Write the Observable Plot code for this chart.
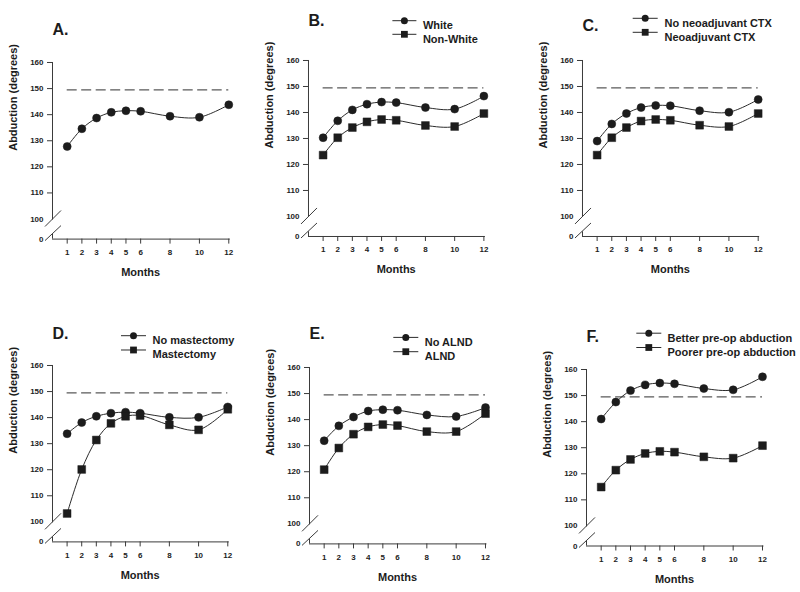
<!DOCTYPE html>
<html>
<head>
<meta charset="utf-8">
<script src="https://cdn.jsdelivr.net/npm/d3@7"></script>
<script src="https://cdn.jsdelivr.net/npm/@observablehq/plot@0.6"></script>
<style>
html, body { margin: 0; padding: 0; background: #fff; }
#wrap { position: relative; width: 800px; height: 592px; overflow: hidden; background: #fff; }
#wrap svg { position: absolute; }
</style>
</head>
<body>
<div id="wrap"></div>
<script>
// ---------- data ----------
const months = [1, 2, 3, 4, 5, 6, 8, 10, 12];
const monthTicks = [1, 2, 3, 4, 5, 6, 8, 10, 12];
const yTicks = [110, 120, 130, 140, 150, 160];
const referenceLine = 149.5;

const aAll      = [127.8, 134.6, 138.7, 140.9, 141.5, 141.3, 139.4, 139.0, 143.8];
const bWhite    = [130.3, 136.8, 141.0, 143.2, 144.0, 143.8, 141.9, 141.3, 146.3];
const bNonWhite = [123.6, 130.3, 134.2, 136.4, 137.3, 137.0, 135.0, 134.6, 139.6];
const cNoNeo    = [129.0, 135.6, 139.6, 141.9, 142.7, 142.6, 140.7, 140.1, 145.0];
const cNeo      = [123.6, 130.3, 134.2, 136.7, 137.3, 137.0, 135.1, 134.6, 139.6];
const dNoMast   = [133.8, 138.1, 140.5, 141.7, 142.1, 141.7, 140.1, 140.1, 144.1];
const dMast     = [103.2, 120.1, 131.4, 137.8, 140.5, 140.8, 137.2, 135.3, 143.2];
const eNoAlnd   = [131.9, 137.6, 141.0, 143.3, 143.8, 143.6, 141.8, 141.2, 144.6];
const eAlnd     = [120.8, 129.1, 134.4, 137.2, 138.1, 137.7, 135.4, 135.4, 142.3];
const fBetter   = [141.0, 147.5, 151.9, 154.1, 154.8, 154.5, 152.7, 152.2, 157.2];
const fPoorer   = [114.9, 121.4, 125.5, 127.8, 128.6, 128.3, 126.5, 126.0, 130.8];

const titles = ["A.", "B.", "C.", "D.", "E.", "F."];
const seriesNames = [
  [null],
  ["White", "Non-White"],
  ["No neoadjuvant CTX", "Neoadjuvant CTX"],
  ["No mastectomy", "Mastectomy"],
  ["No ALND", "ALND"],
  ["Better pre-op abduction", "Poorer pre-op abduction"]
];
const seriesValues = [
  [aAll],
  [bWhite, bNonWhite],
  [cNoNeo, cNeo],
  [dNoMast, dMast],
  [eNoAlnd, eAlnd],
  [fBetter, fPoorer]
];
const symbols = ["circle", "square"];

// broken axis: the "0" label sits just below 100
const Y0 = 92.3;

// ---------- layout (pixels) ----------
const layout = [
  {axisX: 52,    x12: 228.3, y160: 61.7,  y0: 238.3, titleDy: -39, legend: null},
  {axisX: 308.3, x12: 483.7, y160: 60,    y0: 236,   titleDy: -46, legend: {rows: [-39.3, -25.7], l1: 84.4, l2: 108.4, m: 96.4, t: 114.4}},
  {axisX: 582.3, x12: 758,   y160: 60,    y0: 236,   titleDy: -41, legend: {rows: [-41.7, -27.7], l1: 50.7, l2: 75.7, m: 63.2, t: 82}},
  {axisX: 51.7,  x12: 227,   y160: 365.3, y0: 541.7, titleDy: -38, legend: {rows: [-29.3, -15], l1: 69, l2: 94, m: 81.5, t: 100}},
  {axisX: 309,   x12: 485,   y160: 367.3, y0: 543.7, titleDy: -40, legend: {rows: [-29.6, -15.3], l1: 84.3, l2: 109.3, m: 96.8, t: 115.3}},
  {axisX: 585.7, x12: 761.7, y160: 368.5, y0: 545,   titleDy: -39, legend: {rows: [-35.8, -21.5], l1: 50.3, l2: 75.3, m: 62.8, t: 81}}
];

const ink = "#1c1c1c";
const axisInk = "#3a3a3a";
const font = "'Liberation Sans', Arial, Helvetica, sans-serif";
const wrap = document.getElementById("wrap");

layout.forEach((p, k) => {
  const mL = 60, mT = 66, mR = 40, mB = 56;
  const fw = p.x12 - p.axisX, fh = p.y0 - p.y160;
  const width = mL + fw + mR, height = mT + fh + mB;

  const seriesMarks = [];
  seriesValues[k].forEach((vals, i) => {
    const rows = months.map((m, j) => ({month: m, value: vals[j]}));
    seriesMarks.push(Plot.line(rows, {x: "month", y: "value", curve: "catmull-rom", stroke: "#2a2a2a", strokeWidth: 1}));
    seriesMarks.push(Plot.dot(rows, {x: "month", y: "value", symbol: symbols[i], r: symbols[i] === "circle" ? 4 : 4.4, fill: ink, stroke: ink, strokeWidth: 0.5}));
  });

  const legendText = [];
  if (p.legend) {
    seriesNames[k].forEach((name, i) => {
      legendText.push(Plot.text([name], {frameAnchor: "top-left", dx: p.legend.t, dy: p.legend.rows[i], textAnchor: "start", fontSize: 11, fill: ink}));
    });
  }

  const chart = Plot.plot({
    width, height,
    marginLeft: mL, marginRight: mR, marginTop: mT, marginBottom: mB,
    x: {domain: [0, 12], axis: null},
    y: {domain: [Y0, 160], axis: null},
    style: {fontFamily: font, fontWeight: "bold", color: "#222", background: "none", overflow: "visible"},
    marks: [
      Plot.ruleY([Y0], {x1: 0, x2: 12.1, stroke: axisInk, strokeWidth: 1}),
      Plot.ruleX([0], {y1: 99.6, y2: 160, stroke: axisInk, strokeWidth: 1}),
      Plot.ruleX([0], {y1: Y0, y2: Y0 + 1.8, stroke: axisInk, strokeWidth: 1}),
      Plot.axisY({ticks: yTicks, tickSize: 5, tickPadding: 4, fontSize: 8, label: null, stroke: axisInk, fill: "#222"}),
      Plot.axisY({ticks: [Y0, 100], tickSize: 0, tickPadding: 9, fontSize: 8, label: null, fill: "#222", tickFormat: d => d === Y0 ? "0" : String(d)}),
      Plot.axisX({ticks: monthTicks, tickSize: 5, tickPadding: 5, fontSize: 8, label: null, stroke: axisInk, fill: "#222"}),
      Plot.ruleY([referenceLine], {x1: 1, x2: 12, stroke: "#5a5a5a", strokeWidth: 1.2, strokeDasharray: "10,4.5"}),
      ...seriesMarks,
      Plot.text([titles[k]], {frameAnchor: "top-left", dy: p.titleDy, textAnchor: "start", fontSize: 16, fill: ink}),
      Plot.text(["Months"], {frameAnchor: "bottom", dy: 37, fontSize: 11, fill: ink}),
      Plot.text(["Abduction (degrees)"], {frameAnchor: "left", dx: -39, rotate: -90, fontSize: 11, fill: ink}),
      ...legendText
    ]
  });

  chart.style.left = (p.axisX - mL) + "px";
  chart.style.top = (p.y160 - mT) + "px";

  // decorations: axis break slashes and legend keys
  const svg = d3.select(chart);
  const xs = chart.scale("x"), ys = chart.scale("y");
  const ax = xs.apply(0), y100 = ys.apply(100), yb = ys.apply(Y0);
  const g = svg.append("g").attr("stroke", axisInk).attr("stroke-width", 1).attr("fill", "none");
  g.append("line").attr("x1", ax - 7).attr("y1", y100 + 8).attr("x2", ax + 9).attr("y2", y100 - 8);
  g.append("line").attr("x1", ax - 7).attr("y1", yb + 2).attr("x2", ax + 9).attr("y2", yb - 13);

  if (p.legend) {
    const lg = svg.append("g");
    seriesNames[k].forEach((name, i) => {
      const yy = mT + p.legend.rows[i];
      lg.append("line").attr("x1", mL + p.legend.l1).attr("x2", mL + p.legend.l2)
        .attr("y1", yy).attr("y2", yy).attr("stroke", "#2a2a2a").attr("stroke-width", 1);
      const sym = symbols[i] === "circle" ? d3.symbolCircle : d3.symbolSquare;
      const size = symbols[i] === "circle" ? Math.PI * 3.5 * 3.5 : 6.8 * 6.8;
      lg.append("path").attr("d", d3.symbol(sym, size)())
        .attr("transform", `translate(${mL + p.legend.m},${yy})`).attr("fill", ink);
    });
  }

  wrap.appendChild(chart);
});
</script>
</body>
</html>
